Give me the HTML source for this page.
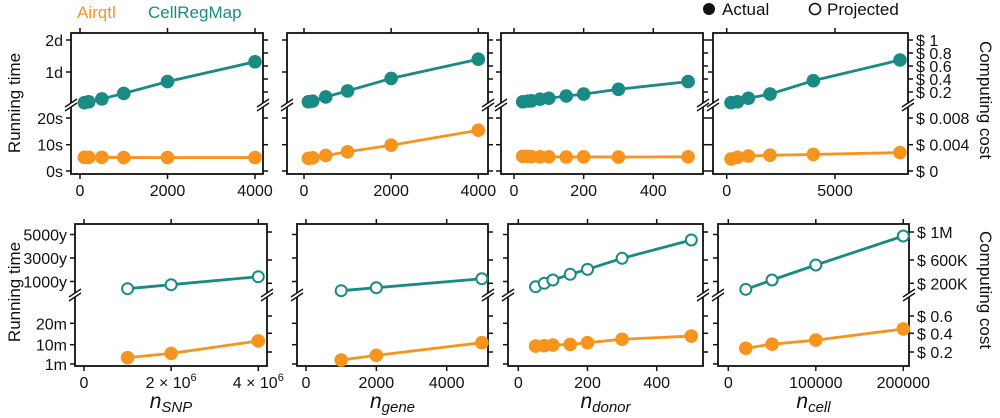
<!DOCTYPE html>
<html><head><meta charset="utf-8"><style>
body{margin:0;background:#fff;}
svg{display:block;font-family:"Liberation Sans",sans-serif;}
</style></head><body>
<svg id="chart" width="1000" height="418" viewBox="0 0 1000 418" xmlns="http://www.w3.org/2000/svg">
<text x="77" y="18" font-size="17" fill="#f7941d">Airqtl</text>
<text x="148" y="18" font-size="17" fill="#1a8a85">CellRegMap</text>
<circle cx="709" cy="9" r="6" fill="#111"/>
<text x="722" y="15" font-size="17" fill="#111">Actual</text>
<circle cx="815" cy="9" r="5.5" fill="#fff" stroke="#111" stroke-width="1.6"/>
<text x="827" y="15" font-size="17" fill="#111">Projected</text>
<text transform="translate(20,103) rotate(-90)" text-anchor="middle" font-size="17" fill="#111">Running time</text>
<text transform="translate(20,292) rotate(-90)" text-anchor="middle" font-size="17" fill="#111">Running time</text>
<text transform="translate(980,100) rotate(90)" text-anchor="middle" font-size="17" fill="#111">Computing cost</text>
<text transform="translate(980,290) rotate(90)" text-anchor="middle" font-size="17" fill="#111">Computing cost</text>
<g id="plots"></g>
</svg>
<script>
// ----- data -----
const topSnpX=[100,200,500,1000,2000,4000];
const topSnpTeal=[0.04,0.07,0.16,0.33,0.70,1.32];
const topSnpOrange=[5.2,5.2,5.2,5.1,5.1,5.1];
const topGeneX=[100,200,500,1000,2000,4000];
const topGeneTeal=[0.07,0.09,0.22,0.41,0.80,1.40];
const topGeneOrange=[4.8,5.0,5.9,7.3,9.8,15.5];
const topDonorX=[25,40,50,75,100,150,200,300,500];
const topDonorTeal=[0.07,0.09,0.10,0.15,0.18,0.25,0.31,0.46,0.70];
const topDonorOrange=[5.6,5.5,5.5,5.4,5.4,5.3,5.4,5.3,5.4];
const topCellX=[200,500,1000,2000,4000,8000];
const topCellTeal=[0.04,0.07,0.18,0.31,0.73,1.375];
const topCellOrange=[4.6,5.2,5.7,6.0,6.3,7.0];
const botSnpX=[1e6,2e6,4e6];
const botSnpTeal=[430,770,1451];
const botSnpOrange=[3.9,5.9,11.7];
const botGeneX=[1000,2000,5000];
const botGeneTeal=[260,515,1280];
const botGeneOrange=[2.8,5.0,10.9];
const botDonorX=[50,75,100,150,200,300,500];
const botDonorTeal=[600,889,1170,1655,2077,3017,4574];
const botDonorOrange=[9.3,9.5,9.8,10.1,10.9,12.5,14.0];
const botCellX=[20000,50000,100000,200000];
const botCellTeal=[377,1170,2447,4915];
const botCellOrange=[8.3,10.2,12.1,17.3];
const topXTicks=[[0,2000,4000],[0,2000,4000],[0,200,400],[0,5000]];
const botXTicks=[[0,2e6,4e6],[0,2000,4000],[0,200,400],[0,100000,200000]];
const topYLabels=["2d","1d","20s","10s","0s"];
const botYLabels=["5000y","3000y","1000y","20m","10m","1m"];
const topCostLabels=["$ 1","$ 0.8","$ 0.6","$ 0.4","$ 0.2","$ 0.008","$ 0.004","$ 0"];
const botCostLabels=["$ 1M","$ 600K","$ 200K","$ 0.6","$ 0.4","$ 0.2"];
const xTitles=["SNP","gene","donor","cell"];

const NS="http://www.w3.org/2000/svg";
const root=document.getElementById('plots');
const TEAL="#1a8a85", ORANGE="#f7941d";
function mk(tag,attrs,parent){const e=document.createElementNS(NS,tag);for(const k in attrs)e.setAttribute(k,attrs[k]);(parent||root).appendChild(e);return e;}
function lin(d0,d1,r0,r1){return v=>r0+(v-d0)/(d1-d0)*(r1-r0);}

const topPanels=[
 {x0:71,x1:263,xs:lin(0,4000,80,255),X:topSnpX,T:topSnpTeal,O:topSnpOrange},
 {x0:287,x1:488,xs:lin(0,4000,304,478.3),X:topGeneX,T:topGeneTeal,O:topGeneOrange},
 {x0:501,x1:703,xs:lin(0,400,514,653.3),X:topDonorX,T:topDonorTeal,O:topDonorOrange},
 {x0:713,x1:908,xs:lin(0,5000,726.7,835),X:topCellX,T:topCellTeal,O:topCellOrange}];
const botPanels=[
 {x0:75,x1:267,xs:lin(0,4e6,84,258.3),X:botSnpX,T:botSnpTeal,O:botSnpOrange},
 {x0:297,x1:488,xs:lin(0,4000,306,446.7),X:botGeneX,T:botGeneTeal,O:botGeneOrange},
 {x0:508,x1:703,xs:lin(0,400,518.3,656.7),X:botDonorX,T:botDonorTeal,O:botDonorOrange},
 {x0:718,x1:909,xs:lin(0,200000,728.3,903.3),X:botCellX,T:botCellTeal,O:botCellOrange}];

const topRow={y0:33,y1:174,brk:105,ysU:lin(0,1,104,72),ysL:lin(0,10,171,144.7),
 leftTicks:[40,72,118,144.7,171],rightTicks:[40,53,66,79,92,118,144.7,171],labY:196,open:false};
const botRow={y0:224,y1:366,brk:295,ysU:lin(0,1000,293.75,282),ysL:lin(0,10,366,344.6),
 leftTicks:[234.5,258,281.5,323.3,344.7,364],rightTicks:[232,260,283.3,316,333.3,352],labY:388,open:true};

function setLabel(t,v){
  if(v===2e6||v===4e6){t.innerHTML=(v/1e6)+' × 10<tspan font-size="11" dy="-7">6</tspan>';}
  else t.textContent=String(v);
}
function drawRow(row,panels,xTicks,prefix){
  panels.forEach((p,i)=>{
    const g=mk('g',{});
    
    
    const fr=mk('rect',{x:p.x0,y:row.y0,width:p.x1-p.x0,height:row.y1-row.y0,fill:'none',stroke:'#111','stroke-width':1.8},g);
    
    
    row.leftTicks.forEach(t=>{const l=mk('line',{x1:p.x0-5,x2:p.x0,y1:t,y2:t,stroke:'#111','stroke-width':1.5},g);
      });
    row.rightTicks.forEach(t=>{const l=mk('line',{x1:p.x1,x2:p.x1+5,y1:t,y2:t,stroke:'#111','stroke-width':1.5},g);
      });
    xTicks[i].forEach(v=>{const x=p.xs(v);
      const a=mk('line',{x1:x,x2:x,y1:row.y1,y2:row.y1+5,stroke:'#111','stroke-width':1.5},g);
      
      const b=mk('line',{x1:x,x2:x,y1:row.y0-5,y2:row.y0,stroke:'#111','stroke-width':1.5},g);
      
      const t=mk('text',{x:x,y:row.labY,'text-anchor':'middle','font-size':16,fill:'#111'},g);
      setLabel(t,v);
      });
    [p.x0,p.x1].forEach(bx=>{
      mk('rect',{x:bx-2,y:row.brk-1.5,width:4,height:3,fill:'#fff'},g);
      [-2,2].forEach(d=>{const l=mk('line',{x1:bx-6,x2:bx+6,y1:row.brk+d+4,y2:row.brk+d-4,stroke:'#111','stroke-width':1.4},g);
        });
    });
    [[p.T,row.ysU,TEAL,row.open,'cellregmap'],[p.O,row.ysL,ORANGE,false,'airqtl']].forEach(([vals,ys,col,open,nm])=>{
      const pts=p.X.map((xv,j)=>[p.xs(xv),ys(vals[j])]);
      const pl=mk('polyline',{points:pts.map(q=>q.join(',')).join(' '),fill:'none',stroke:col,'stroke-width':2.8},g);
      
      pts.forEach(q=>{
        const c=open?mk('circle',{cx:q[0],cy:q[1],r:5.5,fill:'#fff',stroke:col,'stroke-width':2},g)
                    :mk('circle',{cx:q[0],cy:q[1],r:6.8,fill:col},g);
        
      });
    });
    if(prefix==='bottom'){
      const t=mk('text',{x:(p.x0+p.x1)/2,y:408,'text-anchor':'middle','font-size':21,'font-style':'italic',fill:'#111'},g);
      t.innerHTML='n<tspan font-size="15" dy="4">'+xTitles[i]+'</tspan>';
      
    }
  });
  const lp=panels[0];
  const labs=prefix==='top'?topYLabels:botYLabels;
  labs.forEach((s,k)=>{const t=mk('text',{x:lp.x0-8,y:row.leftTicks[k]+6,'text-anchor':'end','font-size':16,fill:'#111'});
    t.textContent=s;});
  const rp=panels[3];
  const rlabs=prefix==='top'?topCostLabels:botCostLabels;
  rlabs.forEach((s,k)=>{const t=mk('text',{x:rp.x1+8,y:row.rightTicks[k]+6,'font-size':16,fill:'#111'});
    t.textContent=s;});
}
drawRow(topRow,topPanels,topXTicks,'top');
drawRow(botRow,botPanels,botXTicks,'bottom');
</script>
</body></html>
